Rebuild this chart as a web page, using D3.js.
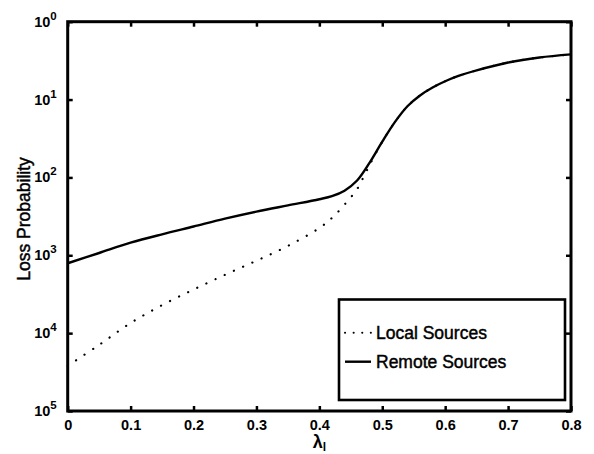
<!DOCTYPE html>
<html><head><meta charset="utf-8">
<script src="https://cdn.jsdelivr.net/npm/d3@7/dist/d3.min.js"></script>
<style>
body{margin:0;background:#fff;}
svg{display:block;}
text{font-family:"Liberation Sans",Arial,sans-serif;fill:#000;}
</style></head><body>
<svg id="c" width="594" height="454"></svg>
<script>
const xTicks = [0, 0.1, 0.2, 0.3, 0.4, 0.5, 0.6, 0.7, 0.8];
const xTickLabels = ["0","0.1","0.2","0.3","0.4","0.5","0.6","0.7","0.8"];
const yTicks = [1, 1e-1, 1e-2, 1e-3, 1e-4, 1e-5];
const yTickExp = ["0","1","2","3","4","5"];

const remoteX = [0,0.05,0.1,0.15,0.2,0.25,0.3,0.35,0.4,0.42,0.44,0.46,0.48,0.5,0.52,0.54,0.56,0.58,0.6,0.62,0.65,0.7,0.75,0.8];
const remoteY = [7.9e-4,1.07e-3,1.45e-3,1.86e-3,2.34e-3,2.95e-3,3.63e-3,4.37e-3,5.25e-3,5.75e-3,6.76e-3,9.12e-3,1.55e-2,2.88e-2,5.13e-2,8.2e-2,0.113,0.143,0.172,0.200,0.237,0.299,0.347,0.380];

const localX = [0,0.05,0.1,0.15,0.2,0.25,0.3,0.35,0.4,0.42,0.44,0.46,0.47,0.48,0.5,0.52,0.54,0.56,0.58,0.6,0.62,0.65,0.7,0.75,0.8];
const localY = [3.8e-5,7.08e-5,1.35e-4,2.29e-4,3.63e-4,5.62e-4,8.51e-4,1.32e-3,2.24e-3,3.02e-3,4.47e-3,7.08e-3,1.0e-2,1.45e-2,2.88e-2,5.13e-2,8.2e-2,0.113,0.143,0.172,0.200,0.237,0.299,0.347,0.380];

const legendLabels = ["Local Sources","Remote Sources"];

const L = 67.7, R = 571, T = 21.7, B = 411;
const svg = d3.select("#c");
const x = d3.scaleLinear().domain([0,0.8]).range([L,R]);
const y = d3.scaleLog().domain([1e-5,1]).range([B,T]);

const line = d3.line().x(d=>x(d[0])).y(d=>y(d[1])).curve(d3.curveCatmullRom.alpha(0.5));
const remote = remoteX.map((v,i)=>[v,remoteY[i]]);
const local = localX.map((v,i)=>[v,localY[i]]);

const plot = svg.append("g");
plot.append("path").datum(local).attr("d",line).attr("fill","none")
  .attr("stroke","#000").attr("stroke-width",2.2).attr("stroke-linecap","round")
  .attr("stroke-dasharray","0.1,10");
plot.append("path").datum(remote).attr("d",line).attr("fill","none")
  .attr("stroke","#000").attr("stroke-width",2.4);

// axes with inward ticks
const tickLen = 5;
const gB = svg.append("g").attr("transform",`translate(0,${B})`)
  .call(d3.axisBottom(x).tickValues(xTicks).tickSizeInner(-tickLen).tickSizeOuter(0).tickPadding(9)
    .tickFormat((d,i)=>xTickLabels[i]));
const gT = svg.append("g").attr("transform",`translate(0,${T})`)
  .call(d3.axisTop(x).tickValues(xTicks).tickSizeInner(-tickLen).tickSizeOuter(0).tickFormat(""));
const gL = svg.append("g").attr("transform",`translate(${L},0)`)
  .call(d3.axisLeft(y).tickValues(yTicks).tickSizeInner(-tickLen).tickSizeOuter(0).tickFormat(""));
const gR = svg.append("g").attr("transform",`translate(${R},0)`)
  .call(d3.axisRight(y).tickValues(yTicks).tickSizeInner(-tickLen).tickSizeOuter(0).tickFormat(""));
[gB,gT,gL,gR].forEach(g=>{
  g.select(".domain").remove();
  g.selectAll(".tick line").attr("stroke","#000").attr("stroke-width",2.5);
});
gB.selectAll(".tick text").attr("font-size",14.5).attr("font-weight","bold")
  .attr("font-family","'Liberation Sans',Arial,sans-serif").attr("fill","#000");

// y tick labels 10^n
const yl = svg.append("g");
yTicks.forEach((v,i)=>{
  const t = yl.append("text").attr("x",L-11).attr("y",y(v)+5)
    .attr("text-anchor","end").attr("font-size",14.5).attr("font-weight","bold");
  t.append("tspan").text("10");
  t.append("tspan").attr("dy",-7).attr("font-size",11.5).text(yTickExp[i]);
});

// frame
svg.append("rect").attr("x",L).attr("y",T).attr("width",R-L).attr("height",B-T)
  .attr("fill","none").attr("stroke","#000").attr("stroke-width",3);

// axis labels
svg.append("text").attr("transform",`translate(30,219) rotate(-90)`)
  .attr("text-anchor","middle").attr("font-size",17.5)
  .attr("stroke","#000").attr("stroke-width",0.45).text("Loss Probability");
const xl = svg.append("text").attr("x",(L+R)/2).attr("y",448).attr("text-anchor","middle")
  .attr("font-size",18).attr("font-weight","bold");
xl.append("tspan").text("λ");
xl.append("tspan").attr("dy",3).attr("font-size",12).text("l");

// legend
const lg = svg.append("g");
lg.append("rect").attr("x",339).attr("y",299.5).attr("width",565-339).attr("height",400-299.5)
  .attr("fill","#fff").attr("stroke","#000").attr("stroke-width",2.6);
const ly = [332.7, 361.7];
lg.append("line").attr("x1",345).attr("x2",371).attr("y1",ly[0]).attr("y2",ly[0])
  .attr("stroke","#000").attr("stroke-width",2).attr("stroke-linecap","round").attr("stroke-dasharray","0.1,8.5");
lg.append("line").attr("x1",345).attr("x2",371).attr("y1",ly[1]).attr("y2",ly[1])
  .attr("stroke","#000").attr("stroke-width",2.4);
legendLabels.forEach((s,i)=>{
  lg.append("text").attr("x",376).attr("y",ly[i]+6).attr("font-size",17.5)
    .attr("stroke","#000").attr("stroke-width",0.45).text(s);
});
</script>
</body></html>
